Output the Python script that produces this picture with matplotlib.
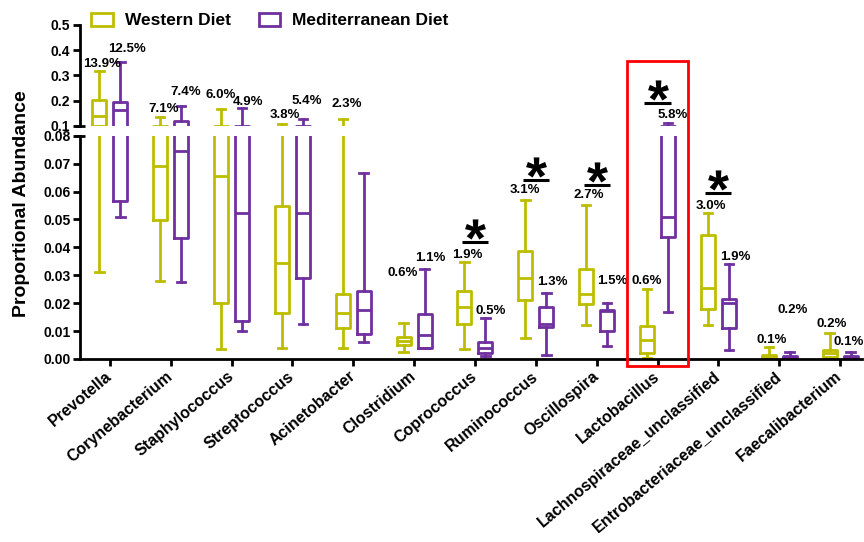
import matplotlib
matplotlib.use("Agg")
import matplotlib.pyplot as plt
import matplotlib.transforms as mtransforms
from matplotlib.patches import Patch, Rectangle

plt.rcParams["font.family"] = ["Liberation Sans", "DejaVu Sans"]
plt.rcParams["font.weight"] = "bold"
plt.rcParams["mathtext.fontset"] = "custom"
plt.rcParams["mathtext.rm"] = "Liberation Sans:bold"

genera = ["Prevotella", "Corynebacterium", "Staphylococcus", "Streptococcus",
          "Acinetobacter", "Clostridium", "Coprococcus", "Ruminococcus",
          "Oscillospira", "Lactobacillus", "Lachnospiraceae_unclassified",
          "Entrobacteriaceae_unclassified", "Faecalibacterium"]

# box summaries per genus: whisker low, Q1, median, Q3, whisker high
west_lo = [0.031, 0.028, 0.0035, 0.0038, 0.0038, 0.0024, 0.0035, 0.0074, 0.0122, 0.0005, 0.0122, 0.0, 0.0]
west_q1 = [0.100, 0.0498, 0.0202, 0.0164, 0.011, 0.005, 0.0125, 0.0211, 0.0196, 0.002, 0.0179, 0.0002, 0.0006]
west_med = [0.140, 0.0692, 0.0656, 0.0345, 0.0166, 0.0066, 0.0185, 0.0289, 0.0233, 0.0068, 0.0256, 0.0007, 0.002]
west_q3 = [0.203, 0.100, 0.100, 0.0548, 0.0232, 0.0078, 0.0244, 0.0387, 0.0323, 0.0118, 0.0444, 0.0014, 0.0032]
west_hi = [0.319, 0.1355, 0.1665, 0.108, 0.128, 0.013, 0.0349, 0.057, 0.055, 0.025, 0.0522, 0.0044, 0.0092]

medi_lo = [0.0508, 0.0276, 0.0101, 0.0125, 0.0062, 0.0038, 0.001, 0.0014, 0.0047, 0.017, 0.0032, 0.0, 0.0]
medi_q1 = [0.0567, 0.0435, 0.0136, 0.029, 0.009, 0.0041, 0.002, 0.0114, 0.010, 0.0436, 0.011, 0.0002, 0.0002]
medi_med = [0.164, 0.0744, 0.0522, 0.0522, 0.0176, 0.0086, 0.0038, 0.0125, 0.0172, 0.0508, 0.020, 0.0005, 0.0005]
medi_q3 = [0.194, 0.119, 0.100, 0.100, 0.0244, 0.016, 0.0062, 0.0185, 0.0176, 0.100, 0.0214, 0.001, 0.001]
medi_hi = [0.353, 0.180, 0.169, 0.126, 0.0665, 0.0323, 0.0146, 0.0235, 0.020, 0.112, 0.034, 0.0026, 0.0026]

# mean abundance (%) printed over each box
west_pct = [13.9, 7.1, 6.0, 3.8, 2.3, 0.6, 1.9, 3.1, 2.7, 0.6, 3.0, 0.1, 0.2]
medi_pct = [12.5, 7.4, 4.9, 5.4, 2.7, 1.1, 0.5, 1.3, 1.5, 5.8, 1.9, 0.2, 0.1]

significant = ["Coprococcus", "Ruminococcus", "Oscillospira", "Lactobacillus",
               "Lachnospiraceae_unclassified"]
highlight = "Lactobacillus"

WEST = "#bdbd00"
MEDI = "#7030a0"
LW = 2.0

# label offsets from whisker top, in pixels (dx right, dy up)
west_off = [(3, 7), (3, 8), (0, 14), (3, 9), (4, 15), (-1, 50), (3, 7), (0, 10), (3, 10), (0, 8), (3, 7), (3, 7), (2, 9)]
medi_off = [(7, 13), (5, 14), (6, 6), (4, 18), (5, 57), (6, 11), (5, 7), (6, 11), (5, 22), (5, 8), (6, 7), (3, 42), (-2, 10)]

W, H = 864, 542
fig = plt.figure(figsize=(W / 100, H / 100), dpi=100)
ax_bot = fig.add_axes([80 / W, 1 - 359 / H, 782 / W, 223.3 / H])
ax_top = fig.add_axes([80 / W, 1 - 126.2 / H, 782 / W, 101.2 / H], sharex=ax_bot)

x = list(range(len(genera)))
shift = 0.172


def stats(lo, q1, med, q3, hi):
    return [dict(whislo=a, q1=b, med=c, q3=d, whishi=e) for a, b, c, d, e in zip(lo, q1, med, q3, hi)]


west_stats = stats(west_lo, west_q1, west_med, west_q3, west_hi)
medi_stats = stats(medi_lo, medi_q1, medi_med, medi_q3, medi_hi)

for ax in (ax_bot, ax_top):
    for st, col, d in ((west_stats, WEST, -shift), (medi_stats, MEDI, shift)):
        props = dict(color=col, linewidth=LW)
        ax.bxp(st, positions=[i + d for i in x], widths=0.23, capwidths=0.14,
               showfliers=False, manage_ticks=False,
               boxprops=props, whiskerprops=props, capprops=props,
               medianprops=props)
    ax.spines["top"].set_visible(False)
    ax.spines["right"].set_visible(False)
    ax.spines["left"].set_linewidth(LW)
    ax.tick_params(axis="y", direction="out", length=5, width=LW, labelsize=10, pad=2)

ax_bot.set_xlim(-0.49, 12.36)
ax_bot.set_ylim(0, 0.08)
ax_bot.set_yticks([i / 100 for i in range(9)])
ax_bot.set_yticklabels([f"{i / 100:.2f}" for i in range(9)])
ax_bot.spines["bottom"].set_linewidth(LW)
ax_bot.set_xticks(x)
ax_bot.set_xticklabels(genera, rotation=40, ha="right", va="center",
                       rotation_mode="anchor", fontsize=11.5)
ax_bot.tick_params(axis="x", direction="out", length=5, width=LW, pad=6)

ax_top.set_ylim(0.0986, 0.5)
ax_top.set_yticks([0.1, 0.2, 0.3, 0.4, 0.5])
ax_top.set_yticklabels(["0.1", "0.2", "0.3", "0.4", "0.5"])
ax_top.spines["bottom"].set_visible(False)
ax_top.tick_params(axis="x", bottom=False, labelbottom=False)

# short bars closing the broken y axis on both sides of the gap
ax_top.plot(0, 0, marker="_", ms=7, mew=LW, color="black",
            transform=ax_top.transAxes, clip_on=False)
ax_bot.plot(0, 1, marker="_", ms=7, mew=LW, color="black",
            transform=ax_bot.transAxes, clip_on=False)


def axis_for(v):
    return ax_top if v > 0.1 else ax_bot


# percentage labels
for i in x:
    for hi, pct, off, d in ((west_hi[i], west_pct[i], west_off[i], -shift),
                            (medi_hi[i], medi_pct[i], medi_off[i], shift)):
        ax = axis_for(hi)
        ax.annotate(f"{pct:.1f}%", xy=(i + d, hi), xytext=(off[0] * 0.72, off[1] * 0.72),
                    textcoords="offset points", ha="center", va="center",
                    fontsize=9.5, annotation_clip=False)


def px_up(n):
    return mtransforms.ScaledTranslation(0, n / 100, fig.dpi_scale_trans)


# significance markers: underlined asterisk above the taller whisker
for name in significant:
    i = genera.index(name)
    top = max(west_hi[i], medi_hi[i])
    ax = axis_for(top)
    ax.plot([i - 0.215, i + 0.215], [top, top], color="black", linewidth=2.2,
            transform=ax.transData + px_up(20), clip_on=False, solid_capstyle="butt")
    ax.plot([i], [top], linestyle="none", marker=r"$\mathrm{*}$", ms=15, mew=0,
            color="black", transform=ax.transData + px_up(33), clip_on=False)

# red frame around the highlighted genus
k = genera.index(highlight)
to_fig = fig.transFigure.inverted()
x0, y0 = to_fig.transform(ax_bot.transData.transform((k - 0.5, -0.0025)))
x1, y1 = to_fig.transform(ax_top.transData.transform((k + 0.5, 0.357)))
fig.patches.append(Rectangle((x0, y0), x1 - x0, y1 - y0, transform=fig.transFigure,
                             fill=False, edgecolor="#ff0000", linewidth=2.0))

handles = [Patch(facecolor="none", edgecolor=WEST, linewidth=LW),
           Patch(facecolor="none", edgecolor=MEDI, linewidth=LW)]
fig.legend(handles, ["Western Diet", "Mediterranean Diet"], loc="upper left",
           bbox_to_anchor=(91 / W, 1 - 13 / H), ncol=2, frameon=False,
           prop=dict(weight="bold", size=12.5), handlelength=1.25, handleheight=0.75,
           handletextpad=0.7, columnspacing=1.6, borderaxespad=0, borderpad=0)

fig.text(22 / W, 1 - 204 / H, "Proportional Abundance", rotation=90,
         ha="center", va="center", fontsize=14)

fig.savefig("out.png", dpi=100)
